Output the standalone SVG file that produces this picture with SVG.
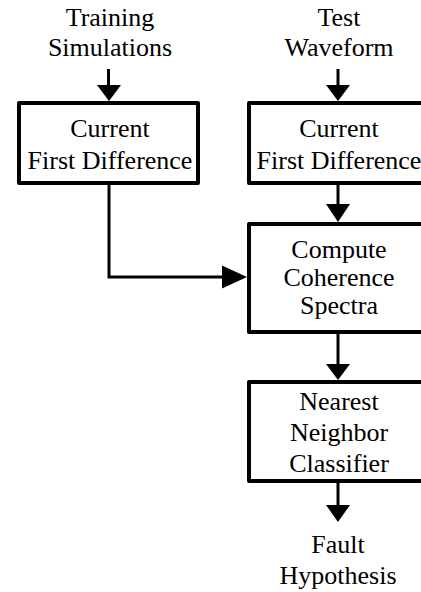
<svg xmlns="http://www.w3.org/2000/svg" width="421" height="592" viewBox="0 0 421 592">
<style>
text { font-family: 'Liberation Serif', 'Tinos', 'Times New Roman', 'DejaVu Serif', serif; font-size: 26px; fill: #000; text-anchor: middle; }
.box { fill: #fff; stroke: #000; stroke-width: 4; stroke-linejoin: round; }
.line { fill: none; stroke: #000; stroke-width: 3; }
.head { fill: #000; stroke: none; }
</style>
<rect width="421" height="592" fill="#fff"/>
<g id="label-training" font-family="Liberation Serif, serif">
<text x="110" y="26">Training</text>
<text x="110" y="56">Simulations</text>
</g>
<g id="label-test">
<text x="339" y="26">Test</text>
<text x="339" y="56">Waveform</text>
</g>
<g id="node-cfd-left">
<rect class="box" x="19" y="103" width="179" height="80"/>
<text x="110" y="137">Current</text>
<text x="110" y="169">First Difference</text>
</g>
<g id="node-cfd-right">
<rect class="box" x="249" y="103" width="182" height="80"/>
<text x="339" y="137">Current</text>
<text x="339" y="169">First Difference</text>
</g>
<g id="node-coherence">
<rect class="box" x="249" y="224" width="182" height="108"/>
<text x="339" y="258">Compute</text>
<text x="339" y="286">Coherence</text>
<text x="339" y="314">Spectra</text>
</g>
<g id="node-classifier">
<rect class="box" x="249" y="382" width="182" height="99"/>
<text x="339" y="410">Nearest</text>
<text x="339" y="441">Neighbor</text>
<text x="339" y="472">Classifier</text>
</g>
<g id="label-fault">
<text x="338" y="553">Fault</text>
<text x="338" y="584">Hypothesis</text>
</g>
<g id="connectors">
<line class="line" x1="108.5" y1="69" x2="108.5" y2="86"/>
<polygon class="head" points="97,85 121,85 109,101"/>
<line class="line" x1="338" y1="69" x2="338" y2="86"/>
<polygon class="head" points="326,85 350,85 338,101"/>
<line class="line" x1="338" y1="185" x2="338" y2="205"/>
<polygon class="head" points="326,204 350,204 338,222"/>
<polyline class="line" points="109,185 109,277 223,277"/>
<polygon class="head" points="222,265.5 222,288.5 247,277"/>
<line class="line" x1="338" y1="334" x2="338" y2="365"/>
<polygon class="head" points="326,364 350,364 338,380"/>
<line class="line" x1="338" y1="483" x2="338" y2="506"/>
<polygon class="head" points="326,505 350,505 338,522"/>
</g>
</svg>
